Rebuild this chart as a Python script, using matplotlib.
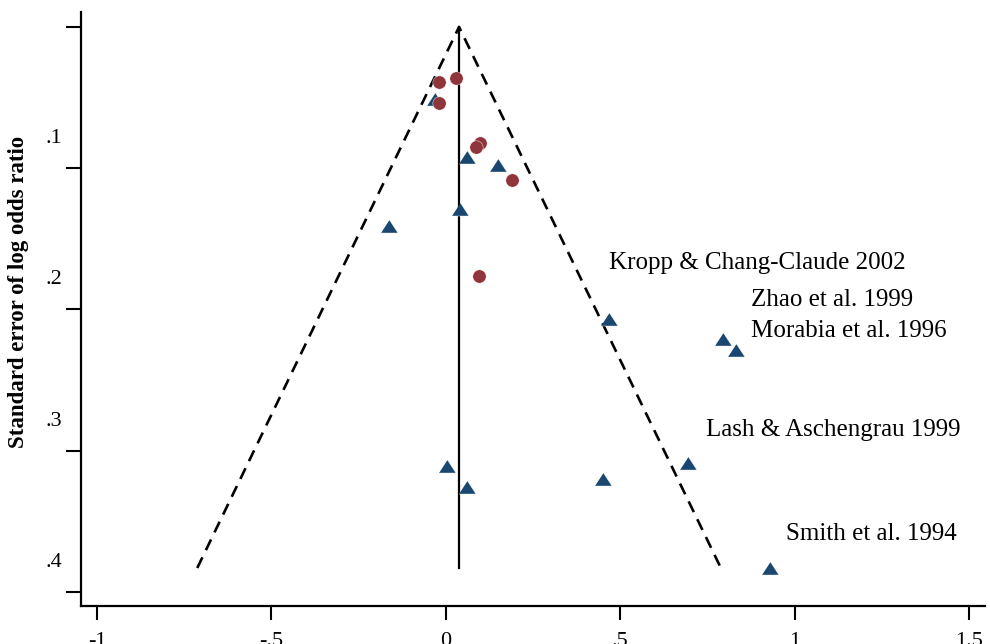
"""
Funnel plot: standard error vs log odds ratio.
"""
import matplotlib
matplotlib.use('Agg')
import matplotlib.pyplot as plt
import matplotlib.transforms as mtransforms
import numpy as np

# red circles
circ_lor = [-0.019, 0.029, -0.019, 0.098, 0.086, 0.191, 0.096]
circ_se = [0.039, 0.036, 0.054, 0.082, 0.085, 0.108, 0.176]

# blue triangles
tri_lor = [-0.032, 0.061, 0.150, 0.040, -0.163, 0.468, 0.795, 0.833,
           0.695, 0.451, 0.002, 0.061, 0.929]
tri_se = [0.051, 0.092, 0.098, 0.129, 0.141, 0.207, 0.221, 0.229,
          0.309, 0.320, 0.311, 0.326, 0.383]

# labelled studies: (name, index into triangles)
lab_names = ['Kropp & Chang-Claude 2002', 'Zhao et al. 1999',
             'Morabia et al. 1996', 'Lash & Aschengrau 1999',
             'Smith et al. 1994']
lab_idx = [5, 6, 7, 8, 12]
lab_off = [(0.2, 36.5), (20.4, 24), (10.8, 9.6), (12.7, 19.7), (11.5, 20.4)]

pooled = 0.038
se_max = 0.383

xticks = [-1, -0.5, 0, 0.5, 1, 1.5]
xtlabels = ['-1', '-.5', '0', '.5', '1', '1.5']
yticks = [0, 0.1, 0.2, 0.3, 0.4]
ytlabels = ['', '.1', '.2', '.3', '.4']

RED = '#90353b'
NAVY = '#1a476f'
FONT = 'Liberation Serif'

fig = plt.figure(figsize=(9.9, 6.44), dpi=100)
ax = fig.add_axes([81 / 990, 38 / 644, 904 / 990, 594 / 644])

# funnel
ax.plot([pooled - 1.96 * se_max, pooled, pooled + 1.96 * se_max],
        [se_max, 0, se_max], color='black', lw=1.9, ls=(0, (4.5, 3)))
ax.plot([pooled, pooled], [0, se_max], color='black', lw=1.6)

tri = [(-1, -0.77), (1, -0.77), (0, 0.77)]
ax.plot(tri_lor, tri_se, ls='none', marker=tri, ms=12.2, color=NAVY,
        mec='white', mew=0.3)
ax.plot(circ_lor, circ_se, ls='none', marker='o', ms=9.6, color=RED,
        mec='white', mew=0.3)

for name, i, off in zip(lab_names, lab_idx, lab_off):
    ax.annotate(name, (tri_lor[i], tri_se[i]), xytext=off,
                textcoords='offset points', ha='left', va='baseline',
                fontsize=18, family=FONT)

ax.set_xlim(-1.046, 1.546)
ax.set_ylim(0.4099, -0.0106)

for s in ['top', 'right']:
    ax.spines[s].set_visible(False)
for s in ['left', 'bottom']:
    ax.spines[s].set_linewidth(1.6)

ax.set_xticks(xticks)
ax.set_xticklabels(xtlabels, family=FONT, fontsize=16)
ax.set_yticks(yticks)
ax.set_yticklabels(ytlabels, family=FONT, fontsize=16)
ax.tick_params(axis='x', length=10, width=1.5, pad=9)
ax.tick_params(axis='y', length=10.8, width=1.5, pad=3)

shift = mtransforms.ScaledTranslation(0, 0.32, fig.dpi_scale_trans)
for t in ax.get_yticklabels():
    t.set_transform(t.get_transform() + shift)

fig.text(19 / 990, 1 - 292 / 644, 'Standard error of log odds ratio',
         rotation=90, ha='center', va='center', fontsize=16.5,
         fontweight='bold', family=FONT)

fig.savefig('out.png', dpi=100)
